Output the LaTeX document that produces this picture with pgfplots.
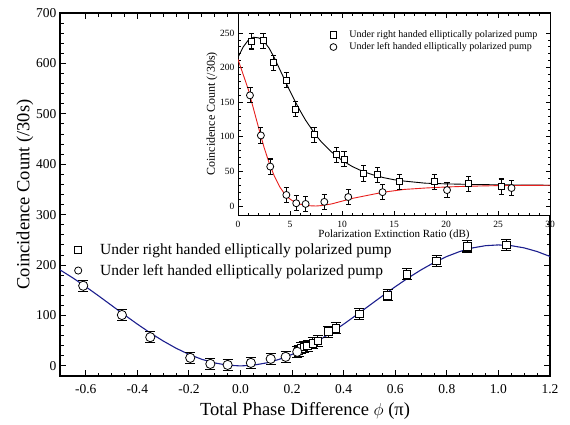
\documentclass[border=0pt]{standalone}
\usepackage{fontspec}
\setmainfont{Liberation Serif}
\usepackage{pgfplots}
\pgfplotsset{compat=1.18}
\definecolor{fitblue}{HTML}{1C1F8E}
\definecolor{fitred}{HTML}{E8201E}

\pgfplotsset{
  datapt/.style={only marks, black, line width=0.8pt,
    mark options={fill=white, line width=0.8pt},
    /pgfplots/error bars/y dir=both, /pgfplots/error bars/y fixed=11,
    /pgfplots/error bars/error bar style={line width=0.8pt},
    /pgfplots/error bars/error mark options={rotate=90, line width=1.1pt, mark size=#1}},
}

\begin{document}
\begin{tikzpicture}
\path[use as bounding box] (-60pt,-48pt) rectangle (510pt,376pt);
\begin{axis}[
  scale only axis, width=490pt, height=363pt,
  xmin=-0.7, xmax=1.2, ymin=-20, ymax=700,
  xtick={-0.6,-0.4,-0.2,0,0.2,0.4,0.6,0.8,1.0,1.2},
  ytick={0,100,200,300,400,500,600,700},
  minor x tick num=3, minor y tick num=4,
  tick align=inside,
  major tick length=6pt, minor tick length=3.5pt,
  every tick/.style={black, line width=0.9pt},
  axis line style={line width=1.2pt},
  /pgf/number format/assume math mode=true,
  xticklabel style={font=\fontsize{13.5}{14}\selectfont, yshift=-5pt,
    /pgf/number format/fixed, /pgf/number format/fixed zerofill,
    /pgf/number format/precision=1},
  yticklabel style={font=\fontsize{13.5}{14}\selectfont},
  xlabel={Total Phase Difference $\phi$ (π)},
  ylabel={Coincidence Count (/30s)},
  label style={font=\fontsize{18.5}{19}\selectfont},
  xlabel style={yshift=-2pt},
  ylabel style={yshift=-4pt},
  legend image code/.code={
    \path[draw=none] (0pt,0pt) -- (35pt,0pt);
    \draw[#1, mark size=3.6pt] plot coordinates {(15pt,0pt)};},
  legend style={draw=none, fill=none, at={(0.0,0.375)}, anchor=north west,
    font=\fontsize{15.5}{16}\selectfont, row sep=4pt},
  legend cell align=left,
]
\addplot[fitblue, line width=1.1pt, forget plot] coordinates {
(-0.70,190.5) (-0.65,174.5) (-0.60,157.1) (-0.55,138.8) (-0.50,120.0)
(-0.45,101.2) (-0.40,82.9) (-0.35,65.5) (-0.30,49.5) (-0.25,35.1)
(-0.20,22.9) (-0.15,13.1) (-0.10,5.9) (-0.05,1.5) (0.00,0.0)
(0.05,1.5) (0.10,5.9) (0.15,13.1) (0.20,22.9) (0.25,35.1)
(0.30,49.5) (0.35,65.5) (0.40,82.9) (0.45,101.2) (0.50,120.0)
(0.55,138.8) (0.60,157.1) (0.65,174.5) (0.70,190.5) (0.75,204.9)
(0.80,217.1) (0.85,226.9) (0.90,234.1) (0.95,238.5) (1.00,240.0)
(1.05,238.5) (1.10,234.1) (1.15,226.9) (1.20,217.1)};
\addplot[datapt=5pt, mark=square*, mark size=3.8pt] coordinates {
(0.225,30) (0.235,35) (0.245,38) (0.26,40) (0.28,45) (0.30,50)
(0.34,68) (0.37,75) (0.46,103) (0.57,140) (0.645,182) (0.76,208)
(0.88,237) (1.03,240)};
\addlegendentry{Under right handed elliptically polarized pump}
\addplot[datapt=5pt, mark=*, mark size=4.6pt] coordinates {
(-0.61,159) (-0.46,101) (-0.35,57) (-0.195,16) (-0.117,4) (-0.05,2)
(0.04,6) (0.117,14) (0.175,18) (0.22,28)};
\addlegendentry{Under left handed elliptically polarized pump}
\end{axis}

\begin{axis}[
  at={(178pt,161pt)}, anchor=south west,
  scale only axis, width=312pt, height=202pt,
  axis background/.style={fill=white},
  xmin=0, xmax=30, ymin=-13, ymax=279,
  xtick={0,5,10,15,20,25,30},
  ytick={0,50,100,150,200,250},
  minor x tick num=4, minor y tick num=4,
  tick align=inside,
  major tick length=4.5pt, minor tick length=2.5pt,
  every tick/.style={black, line width=0.8pt},
  axis line style={line width=1pt},
  /pgf/number format/assume math mode=true,
  ticklabel style={font=\fontsize{9.5}{10}\selectfont},
  xticklabel style={yshift=-3pt},
  xlabel={Polarization Extinction Ratio (dB)},
  ylabel={Coincidence Count (/30s)},
  xlabel style={font=\fontsize{11}{12}\selectfont, yshift=5pt},
  ylabel style={font=\fontsize{12}{13}\selectfont, yshift=-4pt},
  legend image code/.code={
    \path[draw=none] (0pt,0pt) -- (22pt,0pt);
    \draw[#1, mark size=3.4pt] plot coordinates {(8pt,0pt)};},
  legend style={draw=none, fill=none, at={(0.27,0.935)}, anchor=north west,
    font=\fontsize{10}{11}\selectfont, row sep=0pt},
  legend cell align=left,
]
\addplot[black, line width=0.9pt, forget plot] coordinates {
(0,215) (0.5,230) (1,240) (1.5,244) (2,243) (2.5,238) (3,228) (3.5,214)
(4,198) (4.5,182) (5,166) (5.5,151) (6,137) (6.5,124) (7,113) (7.5,102)
(8,93) (9,78) (10,66) (11,57) (12,50) (13,45) (14,41) (15,38) (16,36)
(18,33) (20,32) (23,31) (26,30.5) (30,30)};
\addplot[fitred, line width=0.9pt, forget plot] coordinates {
(0,212) (0.5,190) (1,168) (1.5,140) (2,112) (2.5,85) (3,62) (3.5,43)
(4,28) (4.5,17) (5,10) (5.5,5) (6,2.5) (6.5,1) (7,0.3) (7.5,0) (8,0.6)
(9,3) (10,7) (11,11) (12,14) (13,17) (14,20) (15,22) (16,24) (18,26)
(20,27.5) (22,28.5) (25,29.5) (30,30)};
\addplot[datapt=2.6pt, mark=square*, mark size=3pt] coordinates {
(1.3,238) (2.4,239) (3.45,207) (4.65,182) (5.55,140) (7.3,103)
(9.5,74) (10.2,68) (12.1,47) (13.4,45) (15.5,35) (18.9,35)
(22.2,32) (25.3,28)};
\addlegendentry{Under right handed elliptically polarized pump}
\addplot[datapt=2.6pt, mark=*, mark size=3.5pt] coordinates {
(1.15,160) (2.2,102) (3.1,57) (4.65,16) (5.6,4) (6.5,3) (8.3,6)
(10.6,13) (13.9,20) (20.1,23) (26.3,26)};
\addlegendentry{Under left handed elliptically polarized pump}
\end{axis}
\end{tikzpicture}
\end{document}
